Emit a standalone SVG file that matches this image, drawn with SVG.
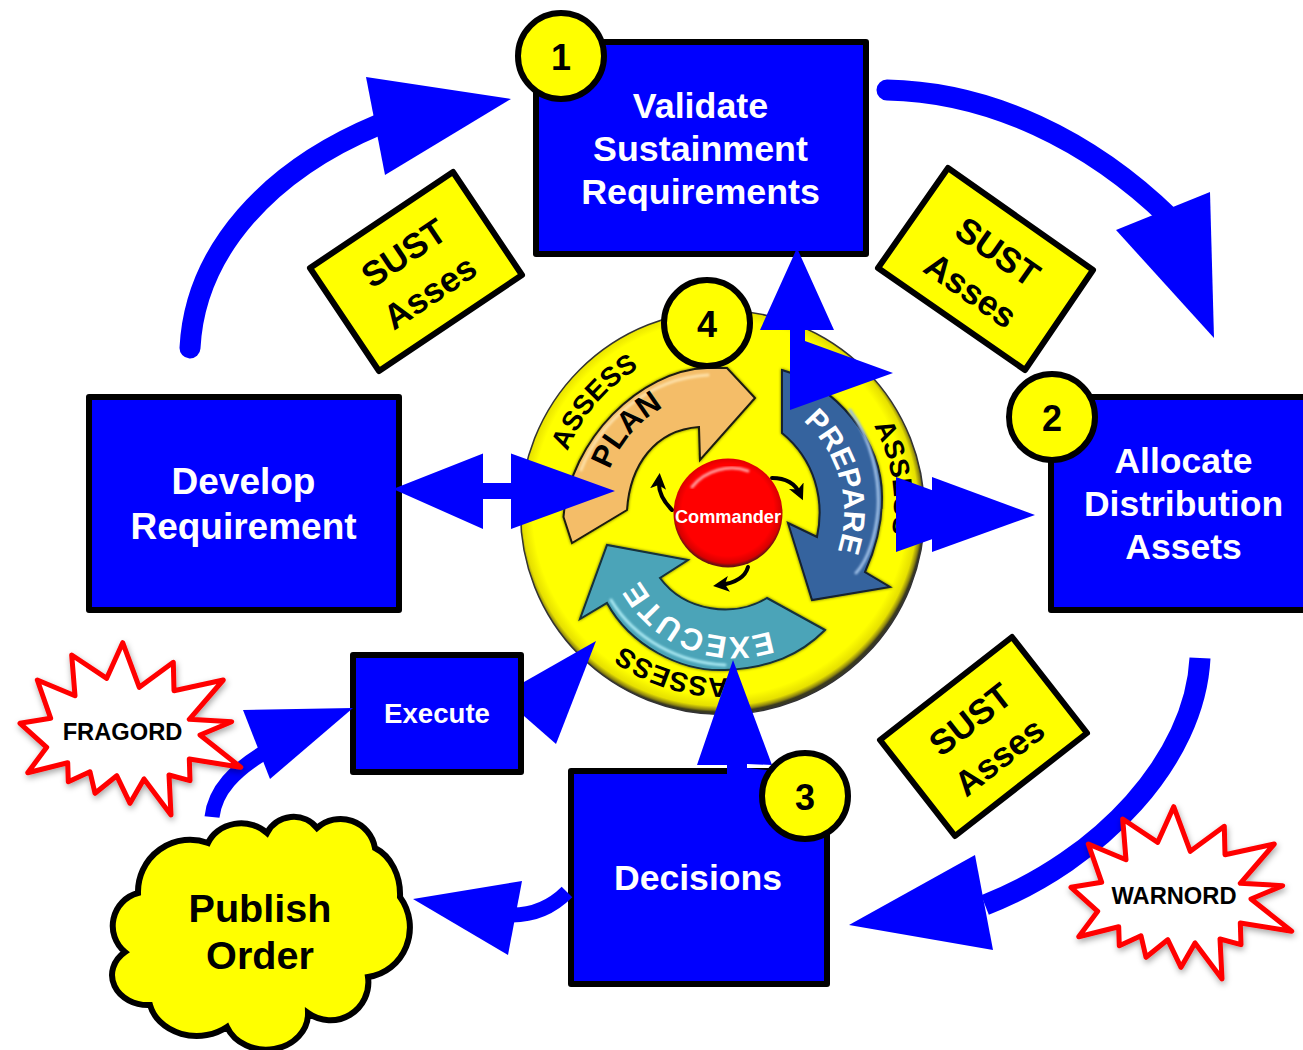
<svg xmlns="http://www.w3.org/2000/svg" xmlns:xlink="http://www.w3.org/1999/xlink" width="1303" height="1050" viewBox="0 0 1303 1050">
<style>
text{font-family:"Liberation Sans",Arial,sans-serif;font-weight:bold}
.box{fill:#0000ff;stroke:#000;stroke-width:6;stroke-linejoin:round}
.wt{fill:#fff;text-anchor:middle}
.bk{fill:#000;text-anchor:middle}
.note{fill:#ffff00;stroke:#000;stroke-width:6;stroke-linejoin:round}
.num{fill:#ffff00;stroke:#000;stroke-width:6}
.shaft{fill:none;stroke:#0000ff}
.head{fill:#0000ff}
.star{fill:#fff;stroke:#ff0000;stroke-width:5;stroke-linejoin:round}
.tiny{fill:none;stroke:#000;stroke-width:4;stroke-linecap:round;marker-end:url(#tip)}
.glow{fill:none;stroke-linecap:round;stroke-width:3;filter:url(#soft)}
</style>
<defs>
<radialGradient id="disc" gradientUnits="userSpaceOnUse" cx="720" cy="508" r="204">
<stop offset="0.92" stop-color="#ffff00"/><stop offset="0.97" stop-color="#e6e000"/><stop offset="0.99" stop-color="#8c8410"/><stop offset="1" stop-color="#3a3a20"/>
</radialGradient>
<radialGradient id="ball" gradientUnits="userSpaceOnUse" cx="728" cy="510" r="56">
<stop offset="0.82" stop-color="#ff0000"/><stop offset="0.95" stop-color="#d80000"/><stop offset="1" stop-color="#6e1010"/>
</radialGradient>
<filter id="shadow" x="-20%" y="-20%" width="140%" height="140%"><feDropShadow dx="1" dy="3" stdDeviation="3" flood-color="#000" flood-opacity="0.35"/></filter>
<filter id="edge" x="-10%" y="-10%" width="120%" height="120%"><feDropShadow dx="0" dy="0" stdDeviation="1.5" flood-color="#000" flood-opacity="0.6"/></filter>
<filter id="soft" x="-10%" y="-10%" width="120%" height="120%"><feGaussianBlur stdDeviation="0.8"/></filter>
<marker id="tip" markerUnits="userSpaceOnUse" markerWidth="18" markerHeight="18" refX="9" refY="8" orient="auto"><path d="M0,0 L16,8 L0,16 L4,8 Z" fill="#000"/></marker>
<path id="r166" d="M722,346 A166,166 0 1 1 721.9,346"/>
<path id="r120" d="M722,392 A120,120 0 1 1 721.9,392"/>
<path id="r122" d="M722,390 A122,122 0 1 1 721.9,390"/>
<path id="r109" d="M735,419 A109,109 0 1 1 734.9,419"/>
<path id="burst" d="M122.7,642.7 L139.3,687.3 L173.3,662.3 L174,690.7 L223.3,680 L189.3,719.3 L231.7,721.7 L200,735 L240.7,767.3 L189.3,759 L190,780.7 L169,775 L171,815 L144,779 L130,803.3 L116.7,775.7 L95,793.3 L90,771.7 L68.3,781.7 L67.7,762.7 L27.7,772.7 L46.7,747.3 L20,723.3 L50.7,718.3 L37.3,680 L75,695.7 L71.7,655 L106.7,678.3 Z"/>
</defs>
<rect width="1303" height="1050" fill="#fff"/>

<g id="node-cycle">
<circle cx="722.5" cy="512.5" r="202" fill="url(#disc)" stroke="#333" stroke-width="1.5"/>
<text font-size="27.5" fill="#000" transform="rotate(291.5 722 512)"><textPath xlink:href="#r166" href="#r166">ASSESS</textPath></text>
<text font-size="27.5" fill="#000" transform="translate(6,-7) rotate(61.5 722 512)"><textPath xlink:href="#r166" href="#r166">ASSESS</textPath></text>
<text font-size="27.5" fill="#000" transform="rotate(178 722 512)"><textPath xlink:href="#r166" href="#r166">ASSESS</textPath></text>
<path d="M572,543 L563.5,517 C570,440 640,370 707,368 L727,368 L755,398 L700,460 L699,427 C655,430 630,465 627,510 Z" fill="#f4bd68" stroke="#1a1a10" stroke-width="2" filter="url(#edge)"/>
<path class="glow" d="M581,470 C600,420 650,378 708,375" stroke="#fde0a8"/>
<text font-size="31" fill="#000" transform="rotate(290.5 722 512)"><textPath xlink:href="#r120" href="#r120">PLAN</textPath></text>
<path d="M782,370 C835,385 882,440 882,497 C882,525 875,550 865,572 L890,587 L812,600 L788,523 L817,537 C825,500 815,460 782,433 Z" fill="#36649e" stroke="#14202f" stroke-width="2" filter="url(#edge)"/>
<path class="glow" d="M850,410 C872,440 880,480 878,510 C876,535 868,560 856,573" stroke="#9cbde4"/>
<text font-size="30" fill="#fff" transform="rotate(41.6 722 512)"><textPath xlink:href="#r122" href="#r122">PREPARE</textPath></text>
<path d="M825,630 L767,598 C735,618 685,612 660,578 L688,560 L607,545 L580,619 L607,603 C630,645 680,672 725,670 C770,668 800,655 825,630 Z" fill="#4ca4b8" stroke="#14303a" stroke-width="2" filter="url(#edge)"/>
<path class="glow" d="M611,600 C635,640 680,663 725,665" stroke="#a8e8f2"/>
<text font-size="31" fill="#fff" letter-spacing="1" transform="rotate(161 735 528)"><textPath xlink:href="#r109" href="#r109">EXECUTE</textPath></text>
<path class="tiny" d="M672,510 C662,500 658,490 659,480"/>
<path class="tiny" d="M772,478 C785,478 795,483 800,494"/>
<path class="tiny" d="M748,567 C745,578 735,583 720,585"/>
<circle cx="728" cy="513" r="54.5" fill="url(#ball)"/>
<path class="glow" d="M692,487 C705,470 730,464 748,471" stroke="#ff9a9a"/>
<text x="728" y="523" font-size="18.2" class="wt">Commander</text>
</g>

<g id="node-validate"><rect class="box" x="536" y="42" width="330" height="212"/>
<text class="wt" font-size="35.8" x="700.5" y="118">Validate</text><text class="wt" font-size="35.8" x="700.5" y="161">Sustainment</text><text class="wt" font-size="35.8" x="700.5" y="204">Requirements</text></g>
<g id="node-develop"><rect class="box" x="89" y="397" width="310" height="213"/>
<text class="wt" font-size="37" x="243.5" y="494">Develop</text><text class="wt" font-size="37" x="243.5" y="539">Requirement</text></g>
<g id="node-allocate"><rect class="box" x="1051" y="397" width="262" height="213"/>
<text class="wt" font-size="35.5" x="1183.5" y="473">Allocate</text><text class="wt" font-size="35.5" x="1183.5" y="516">Distribution</text><text class="wt" font-size="35.5" x="1183.5" y="559">Assets</text></g>
<g id="node-decisions"><rect class="box" x="571" y="771" width="256" height="213"/>
<text class="wt" font-size="35.6" x="698" y="890">Decisions</text></g>
<g id="node-execute"><rect class="box" x="353" y="655" width="168" height="117"/>
<text class="wt" font-size="27.6" x="437" y="723">Execute</text></g>

<g id="connectors">
<path class="shaft" stroke-width="21" stroke-linecap="round" d="M190,348 C195,250 270,170 378,125"/>
<polygon class="head" points="366,77 511,99 385,175"/>
<path class="shaft" stroke-width="21" stroke-linecap="round" d="M887,90 C990,92 1090,140 1170,218"/>
<polygon class="head" points="1210,192 1214,338 1116,230"/>
<path class="shaft" stroke-width="21" d="M1200,658 C1195,760 1100,860 985,905"/>
<polygon class="head" points="975,855 993,950 849,925"/>
<path class="shaft" stroke-width="15" d="M567,892 C552,907 535,915 512,915"/>
<polygon class="head" points="413,899 522,881 508,955"/>
<path class="shaft" stroke-width="15" d="M212,817 C215,790 235,770 265,752"/>
<polygon class="head" points="243,710 353,708 270,779"/>
<polygon class="head" points="393,489 483,453.5 483,483 511,483 511,453.5 615,491 511,529 511,499 483,499 483,529"/>
<polygon class="head" points="596,641 524,682 524,716 532,723 556,744"/>
<polygon class="head" points="733,660 772,765 747,764 747,775 727,775 727,765 697,765"/>
<polygon class="head" points="747,768 775,771 795,790 747,790"/>
<polygon class="head" points="797,248 834,330 805,330 805,341 893,373 790,410 790,330 760,330"/>
<polygon class="head" points="896,477 1000,515 896,552"/>
<polygon class="head" points="932,477 1035,515 932,552"/>
</g>

<g id="node-sust-1"><polygon class="note" points="453,172 522,275 379,371 310,268"/>
<g transform="translate(416,271.5) rotate(-33.9)"><text class="bk" font-size="35" y="-10">SUST</text><text class="bk" font-size="35" y="37">Asses</text></g></g>
<g id="node-sust-2"><polygon class="note" points="948,168 1093,270 1025,370 878,268"/>
<g transform="translate(985,270) rotate(35)"><text class="bk" font-size="35" y="-10">SUST</text><text class="bk" font-size="35" y="37">Asses</text></g></g>
<g id="node-sust-3"><polygon class="note" points="1012,637 1087,733 955,836 880,740"/>
<g transform="translate(984,737) rotate(-38)"><text class="bk" font-size="35" y="-10">SUST</text><text class="bk" font-size="35" y="37">Asses</text></g></g>

<g id="node-fragord"><use href="#burst" xlink:href="#burst" class="star" filter="url(#shadow)"/>
<text class="bk" font-size="23.7" x="122.5" y="740">FRAGORD</text></g>
<g id="node-warnord"><use href="#burst" xlink:href="#burst" class="star" filter="url(#shadow)" transform="translate(1051,164)"/>
<text class="bk" font-size="23.7" x="1174" y="904">WARNORD</text></g>

<g id="node-publish"><path d="M208,843 A36,32 0 0 1 267,833 A30,30 0 0 1 317,828 A35,35 0 0 1 375,848 A40,50 0 0 1 400,897 A48,50 0 0 1 368,977 A38,38 0 0 1 308,1013 A42,36 0 0 1 227,1027 A48,40 0 0 1 150,1005 A36,30 0 0 1 125,952 A34,34 0 0 1 138,893 A52,52 0 0 1 208,843 Z" fill="#ffff00" stroke="#000" stroke-width="6"/>
<text class="bk" font-size="39.6" x="260" y="922">Publish</text><text class="bk" font-size="39.6" x="260" y="969">Order</text></g>

<g id="node-1"><circle class="num" cx="561" cy="56" r="43"/><text class="bk" font-size="36" x="561" y="70">1</text></g>
<g id="node-2"><circle class="num" cx="1052" cy="417" r="43"/><text class="bk" font-size="36" x="1052" y="431">2</text></g>
<g id="node-3"><circle class="num" cx="805" cy="796" r="43"/><text class="bk" font-size="36" x="805" y="810">3</text></g>
<g id="node-4"><circle class="num" cx="707" cy="323" r="43"/><text class="bk" font-size="36" x="707" y="337">4</text></g>
</svg>
